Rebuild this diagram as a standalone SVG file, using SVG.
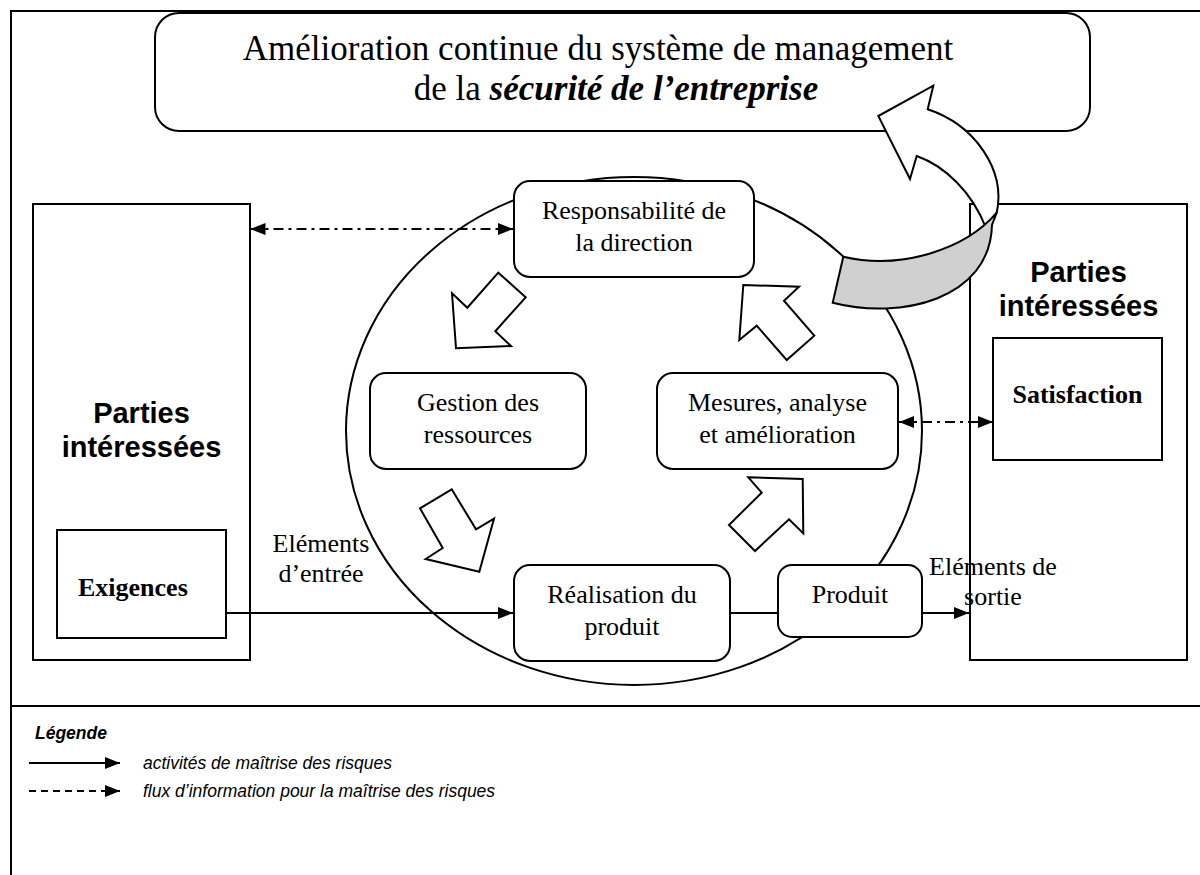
<svg xmlns="http://www.w3.org/2000/svg" width="1200" height="875" viewBox="0 0 1200 875">
<defs>
<style>
.box{fill:#fff;stroke:#000;stroke-width:2}
.rbox{fill:#fff;stroke:#000;stroke-width:2}
.ser{font-family:"Liberation Serif","Times New Roman",serif;font-size:26px;fill:#000}
.sans{font-family:"Liberation Sans",Arial,sans-serif;fill:#000}
.ln{fill:none;stroke:#000;stroke-width:2}
.dd{fill:none;stroke:#000;stroke-width:2;stroke-dasharray:10 5 3 5}
.blk{fill:#fff;stroke:#000;stroke-width:2;stroke-linejoin:miter}
</style>
<marker id="ah" viewBox="0 0 15 12" refX="15" refY="6" markerWidth="15" markerHeight="12" markerUnits="userSpaceOnUse" orient="auto-start-reverse">
<path d="M0,0 L15,6 L0,12 Z" fill="#000"/>
</marker>
</defs>
<rect width="1200" height="875" fill="#fff"/>
<g id="frame">
<path d="M11,875 L11,11 L1200,11" class="ln"/>
<path d="M11,706 L1200,706" class="ln"/>
</g>
<g id="title">
<rect x="155" y="13" width="935" height="118" rx="24" class="rbox"/>
<text x="598" y="60" text-anchor="middle" font-family="Liberation Serif, Times New Roman, serif" font-size="35">Amélioration continue du système de management</text>
<text x="616" y="100" text-anchor="middle" font-family="Liberation Serif, Times New Roman, serif" font-size="35">de la <tspan font-weight="bold" font-style="italic">sécurité de l’entreprise</tspan></text>
</g>
<g id="pi-left">
<rect x="33" y="204" width="217" height="456" class="box"/>
<text class="sans" x="141.5" y="423" text-anchor="middle" font-size="29" font-weight="bold">Parties</text>
<text class="sans" x="141.5" y="457" text-anchor="middle" font-size="29" font-weight="bold">intéressées</text>
</g>
<g id="exigences">
<rect x="57" y="530" width="169" height="108" class="box"/>
<text class="ser" x="78" y="596" font-size="24" font-weight="bold">Exigences</text>
</g>
<g id="pi-right">
<rect x="970" y="204" width="217" height="456" class="box"/>
<text class="sans" x="1078.5" y="282" text-anchor="middle" font-size="29" font-weight="bold">Parties</text>
<text class="sans" x="1078.5" y="316" text-anchor="middle" font-size="29" font-weight="bold">intéressées</text>
</g>
<g id="satisfaction">
<rect x="993" y="338" width="169" height="122" class="box"/>
<text class="ser" x="1077.5" y="403" text-anchor="middle" font-size="24" font-weight="bold">Satisfaction</text>
</g>
<g id="cycle">
<ellipse cx="634" cy="431" rx="288" ry="254" class="ln"/>
</g>
<g id="connectors">
<path d="M250.5,229 L513,229" class="dd" marker-start="url(#ah)" marker-end="url(#ah)"/>
<path d="M899,422 L993,422" class="dd" marker-start="url(#ah)" marker-end="url(#ah)"/>
<path d="M226,613 L513,613" class="ln" marker-end="url(#ah)"/>
<path d="M730,613 L778,613" class="ln"/>
<path d="M922,613 L969,613" class="ln" marker-end="url(#ah)"/>
</g>
<g id="responsabilite">
<rect x="514" y="181" width="240" height="96" rx="16" class="rbox"/>
<text class="ser" x="634" y="219" text-anchor="middle">Responsabilité de</text>
<text class="ser" x="634" y="251" text-anchor="middle">la direction</text>
</g>
<g id="gestion">
<rect x="370" y="373" width="216" height="96" rx="16" class="rbox"/>
<text class="ser" x="478" y="411" text-anchor="middle">Gestion des</text>
<text class="ser" x="478" y="443" text-anchor="middle">ressources</text>
</g>
<g id="mesures">
<rect x="657" y="373" width="241" height="96" rx="16" class="rbox"/>
<text class="ser" x="777.5" y="411" text-anchor="middle">Mesures, analyse</text>
<text class="ser" x="777.5" y="443" text-anchor="middle">et amélioration</text>
</g>
<g id="realisation">
<rect x="514" y="565" width="216" height="96" rx="16" class="rbox"/>
<text class="ser" x="622" y="603" text-anchor="middle">Réalisation du</text>
<text class="ser" x="622" y="635" text-anchor="middle">produit</text>
</g>
<g id="produit">
<rect x="778" y="565" width="144" height="72" rx="14" class="rbox"/>
<text class="ser" x="850" y="603" text-anchor="middle">Produit</text>
</g>
<g id="labels">
<text class="ser" x="321" y="552" text-anchor="middle">Eléments</text>
<text class="ser" x="321" y="582" text-anchor="middle">d’entrée</text>
<text class="ser" x="993" y="575" text-anchor="middle">Eléments de</text>
<text class="ser" x="993" y="605" text-anchor="middle">sortie</text>
</g>
<g id="block-arrows">
<path class="blk" d="M498.3,272.7 L525.7,297.3 L495.3,331.3 L511,346 L456,348.3 L452,293.3 L467.3,307.7 Z"/>
<path class="blk" d="M451.7,489.3 L476,529.3 L494,518.7 L479.3,571.7 L425.7,559 L442.7,548 L420,508.3 Z"/>
<path class="blk" d="M748.3,477.3 L802.7,479 L803.3,533.3 L789,519.3 L755,551 L729,525 L761.7,492.7 Z"/>
<path class="blk" d="M743.3,285 L799,286.7 L784,300.7 L814.3,335.7 L786.7,360 L756.7,325.7 L739.3,340 Z"/>
</g>
<g id="improvement-arrow">
<path class="blk" d="M927.7,109.3 L933.3,85.7 L878.3,116 L910,179 L916.7,156 C945,166 972,192 986,228 L996.7,212.7 C1006,170 975,125 927.7,109.3 Z"/>
<path d="M843.3,256.7 C900,270 965,250 996.7,212.7 L992,225 C990,300 900,320 832.7,302.7 Z" fill="#d0d0d0" stroke="#000" stroke-width="2"/>
</g>
<g id="legend">
<text class="sans" x="35" y="739" font-size="17.5" font-weight="bold" font-style="italic">Légende</text>
<path d="M29,763 L120,763" class="ln" marker-end="url(#ah)"/>
<text class="sans" x="143" y="769" font-size="17.5" font-style="italic">activités de maîtrise des risques</text>
<path d="M29,791 L120,791" fill="none" stroke="#000" stroke-width="2" stroke-dasharray="7 5" marker-end="url(#ah)"/>
<text class="sans" x="143" y="797" font-size="17.5" font-style="italic">flux d’information pour la maîtrise des risques</text>
</g>
</svg>
